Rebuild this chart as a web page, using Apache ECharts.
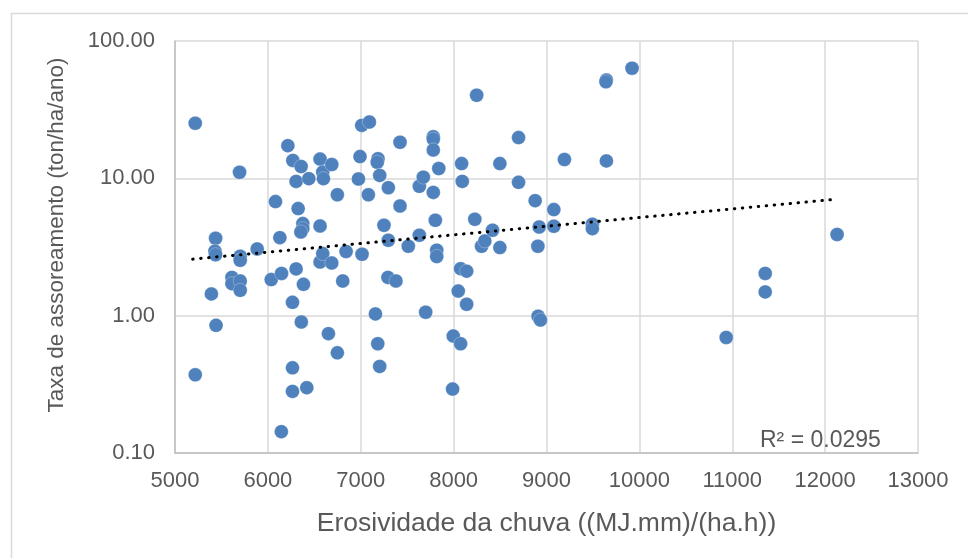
<!DOCTYPE html>
<html><head><meta charset="utf-8">
<script src="https://cdn.jsdelivr.net/npm/echarts@6/dist/echarts.min.js"></script>
<style>html,body{margin:0;padding:0;background:#fff}#c{width:968px;height:558px}</style>
</head><body><div id="c"></div>
<script>
const xVals = [5218,5218,5392,5437,5430,5437,5442,5613,5613,5702,5702,5695,5702,5702,5885,6036,6082,6129,6147,6145,
6215,6269,6265,6265,6265,6304,6304,6326,6358,6376,6376,6355,6383,6360,6419,6441,6562,6562,6562,6591,
6598,6591,6688,6688,6652,6748,6748,6806,6842,6975,6992,7011,7014,7093,7082,7158,7183,7204,7186,7178,
7204,7250,7297,7297,7293,7379,7423,7423,7512,7631,7631,7674,7699,7781,7781,7781,7781,7803,7818,7818,
7840,7996,7989,8050,8075,8140,8075,8140,8086,8093,8228,8248,8301,8336,8419,8498,8498,8699,8699,8878,
8907,8921,8910,8935,9079,9079,9193,9494,9494,9645,9640,9645,9921,10935,11355,11355,12129];
const yVals = [25.2,0.371,1.44,3.66,2.95,2.78,0.85,1.90,1.71,1.79,1.53,11.06,2.71,2.53,3.06,1.83,6.77,3.70,2.03,0.143,
17.3,13.5,1.25,0.417,0.281,9.5,2.19,6.02,12.2,4.68,4.30,4.07,1.69,0.90,0.299,9.95,13.8,4.5,2.46,11.1,
9.95,2.83,12.6,2.42,0.74,7.6,0.536,1.79,2.93,9.9,14.4,24.3,2.80,25.7,7.6,1.03,0.624,0.427,13.9,13.1,
10.5,4.55,8.55,3.54,1.90,1.79,18.3,6.29,3.2,8.75,3.85,10.2,1.06,20.1,19.3,16.1,7.9,4.95,3.0,2.7,
11.8,0.71,0.292,1.51,2.2,2.11,0.624,1.21,12.8,9.5,5.03,40.3,3.2,3.5,4.19,12.8,3.13,19.8,9.35,6.88,
3.2,4.42,0.99,0.93,5.92,4.48,13.7,4.63,4.30,52.0,50.5,13.4,63.4,0.694,2.03,1.49,3.9];
const trendX = [5190, 12075];
const trendY = [2.58, 7.0];
const xTitle = 'Erosividade da chuva ((MJ.mm)/(ha.h))';
const yTitle = 'Taxa de assoreamento (ton/ha/ano)';
const r2Text = 'R² = 0.0295';

const pts = xVals.map((x, i) => [x, yVals[i]]);
const trend = trendX.map((x, i) => [x, trendY[i]]);
const FONT = '"Liberation Sans", Arial, sans-serif';
const chart = echarts.init(document.getElementById('c'), null, {renderer: 'canvas'});
chart.setOption({
  animation: false,
  backgroundColor: '#fff',
  grid: {left: 175, top: 41, width: 743, height: 412, containLabel: false},
  xAxis: {
    type: 'value', min: 5000, max: 13000, interval: 1000,
    name: xTitle, nameLocation: 'middle', nameGap: 57,
    nameTextStyle: {color: '#595959', fontSize: 26.5, fontFamily: FONT},
    axisLine: {show: true, lineStyle: {color: '#bfbfbf', width: 1.5}},
    axisTick: {show: false},
    axisLabel: {color: '#595959', fontSize: 22, fontFamily: FONT, margin: 17,
      formatter: v => String(v)},
    splitLine: {show: true, lineStyle: {color: '#d9d9d9', width: 1.5}}
  },
  yAxis: {
    type: 'log', logBase: 10, min: 0.1, max: 100,
    axisLine: {show: true, lineStyle: {color: '#bfbfbf', width: 1.5}},
    axisTick: {show: false},
    axisLabel: {color: '#595959', fontSize: 22, fontFamily: FONT, margin: 20,
      formatter: v => Number(v).toFixed(2)},
    splitLine: {show: true, lineStyle: {color: '#d9d9d9', width: 1.5}}
  },
  series: [
    {type: 'scatter', data: pts, symbolSize: 14,
     itemStyle: {color: '#4f81bd', opacity: 1, borderColor: 'rgba(255,255,255,0.35)', borderWidth: 0.8}},
    {type: 'line', data: trend, symbol: 'none', z: 3,
     lineStyle: {color: '#000', width: 3, type: [0.5, 7.5], cap: 'round'}}
  ],
  graphic: [
    {type: 'rect', left: 9, top: 11, shape: {width: 1000, height: 600}, silent: true, z: -10,
     style: {fill: 'none', stroke: '#d9d9d9', lineWidth: 1.5}},
    {type: 'text', x: 57, y: 235, rotation: Math.PI / 2, z: 10,
     style: {text: yTitle, fill: '#595959', font: '22.5px ' + FONT, textAlign: 'center', textVerticalAlign: 'middle'}},
    {type: 'text', left: 760, top: 429, z: 10,
     style: {text: r2Text, fill: '#595959', font: '23px ' + FONT}}
  ]
});
</script></body></html>
